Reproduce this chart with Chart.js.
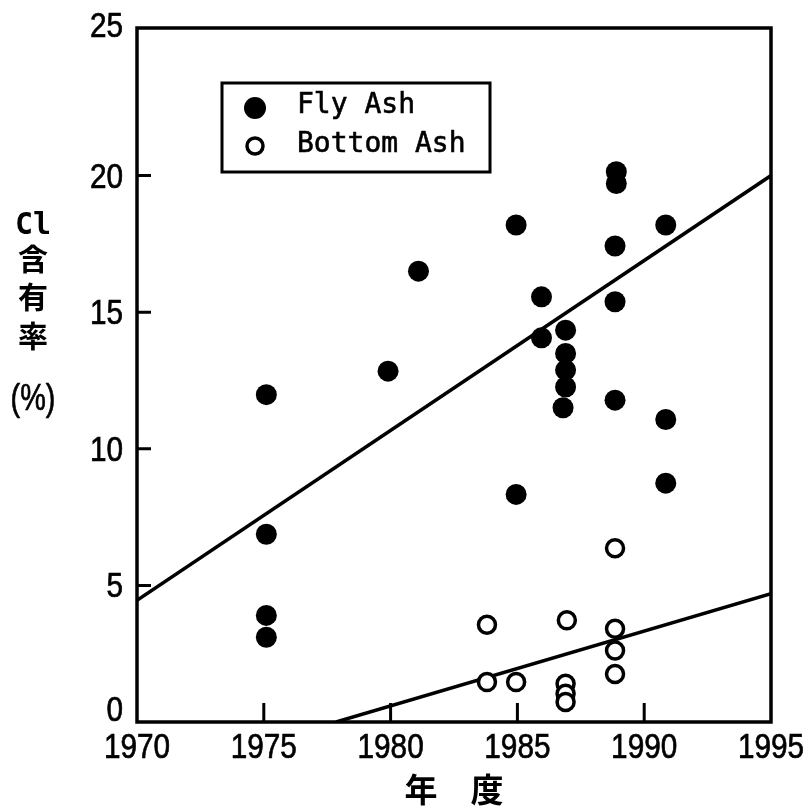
<!DOCTYPE html>
<html>
<head>
<meta charset="utf-8">
<script src="https://cdn.jsdelivr.net/npm/chart.js@4.4.1/dist/chart.umd.min.js"></script>
<style>
  html, body { margin: 0; padding: 0; background: #fff; }
  canvas { display: block; }
</style>
</head>
<body>
<canvas id="clChart" width="803" height="808"></canvas>
<script>
// Fly Ash (filled)
const flyYears = [1975.1, 1975.1, 1975.1, 1975.1, 1979.9, 1981.1, 1984.95, 1984.95, 1985.95, 1985.95,
                  1986.9, 1986.9, 1986.9, 1986.9, 1986.8, 1988.9, 1988.9, 1988.85, 1988.85, 1988.85,
                  1990.85, 1990.85, 1990.85];
const flyCl = [11.98, 6.87, 3.9, 3.1, 12.84, 16.5, 18.19, 8.33, 15.56, 14.06,
               14.34, 13.49, 12.88, 12.26, 11.5, 20.14, 19.71, 17.42, 15.38, 11.78,
               18.19, 11.07, 8.74];

// Bottom Ash (open)
const bottomYears = [1983.8, 1983.8, 1984.95, 1986.95, 1986.9, 1986.9, 1986.9, 1988.85, 1988.85, 1988.85, 1988.85];
const bottomCl = [3.56, 1.46, 1.46, 3.72, 1.40, 1.03, 0.73, 6.36, 3.41, 2.62, 1.76];

// regression lines
const flyTrendYears = [1970, 1995];
const flyTrendCl = [4.45, 20.0];
const bottomTrendYears = [1977.85, 1995];
const bottomTrendCl = [0, 4.7];

const xTicks = [1970, 1975, 1980, 1985, 1990, 1995];
const yTicks = [0, 5, 10, 15, 20, 25];
const yTickLabels = ['0', '5', '10', '15', '20', '25'];

const seriesNames = ['Fly Ash', 'Bottom Ash'];

function toPoints(xs, ys) {
  return xs.map((x, i) => ({ x: x, y: ys[i] }));
}

// narrow text: squeeze horizontally, a touch heavier
function narrowText(ctx, text, x, y, align, squeeze) {
  ctx.save();
  ctx.translate(x, y);
  ctx.scale(squeeze, 1);
  ctx.textAlign = align;
  ctx.lineWidth = 0.7;
  ctx.fillText(text, 0, 0);
  ctx.strokeText(text, 0, 0);
  ctx.restore();
}

/** frame, inward ticks, tick labels, axis titles and legend */
const decorPlugin = {
  id: 'decor',
  afterDraw(chart) {
    const ctx = chart.ctx;
    const a = chart.chartArea;
    const xs = chart.scales.x, ys = chart.scales.y;
    ctx.save();
    ctx.strokeStyle = '#000';
    ctx.fillStyle = '#000';
    ctx.lineWidth = 3.5;
    ctx.strokeRect(a.left, a.top, a.right - a.left, a.bottom - a.top);

    // inward ticks
    ctx.lineWidth = 3;
    ctx.beginPath();
    xTicks.slice(1, -1).forEach(v => {
      const px = xs.getPixelForValue(v);
      ctx.moveTo(px, a.bottom);
      ctx.lineTo(px, a.bottom - 19);
    });
    yTicks.slice(1, -1).forEach(v => {
      const py = ys.getPixelForValue(v);
      ctx.moveTo(a.left, py);
      ctx.lineTo(a.left + 14, py);
    });
    ctx.stroke();

    // tick labels
    ctx.font = '35px "Liberation Sans"';
    ctx.textBaseline = 'alphabetic';
    xTicks.forEach(v => {
      narrowText(ctx, String(v), xs.getPixelForValue(v), a.bottom + 36, 'center', 0.85);
    });
    yTicks.forEach((v, i) => {
      let py = ys.getPixelForValue(v) + 12;
      if (i === 0) py = a.bottom - 1;
      if (i === yTicks.length - 1) py = a.top + 9;
      narrowText(ctx, yTickLabels[i], a.left - 14, py, 'right', 0.85);
    });

    // y title (stacked)
    ctx.textAlign = 'center';
    ctx.textBaseline = 'middle';
    ctx.font = 'bold 30px "DejaVu Sans Mono"';
    ctx.fillText('Cl', 33, 226);
    ctx.font = 'bold 30px "Noto Sans CJK JP"';
    ctx.fillText('含', 33, 259);
    ctx.fillText('有', 33, 297);
    ctx.fillText('率', 33, 336);
    ctx.font = '36px "Liberation Sans"';
    ctx.textBaseline = 'alphabetic';
    narrowText(ctx, '(%)', 33, 410, 'center', 0.8);

    // x title
    ctx.textAlign = 'center';
    ctx.textBaseline = 'middle';
    ctx.font = 'bold 33px "Noto Sans CJK JP"';
    ctx.fillText('年　度', (a.left + a.right) / 2, 789);

    // legend
    const lx = a.left + 85, ly = a.top + 55;
    ctx.lineWidth = 3;
    ctx.strokeRect(lx, ly, 268, 89);
    ctx.beginPath();
    ctx.arc(lx + 33, ly + 25, 11, 0, Math.PI * 2);
    ctx.fill();
    ctx.beginPath();
    ctx.lineWidth = 3.5;
    ctx.arc(lx + 33, ly + 63, 8, 0, Math.PI * 2);
    ctx.stroke();
    ctx.textAlign = 'left';
    ctx.textBaseline = 'alphabetic';
    ctx.font = '28px "DejaVu Sans Mono"';
    ctx.lineWidth = 0.6;
    ctx.fillText(seriesNames[0], lx + 75, ly + 30);
    ctx.strokeText(seriesNames[0], lx + 75, ly + 30);
    ctx.fillText(seriesNames[1], lx + 75, ly + 69);
    ctx.strokeText(seriesNames[1], lx + 75, ly + 69);
    ctx.restore();
  }
};

document.addEventListener("DOMContentLoaded", function () {
  const ctx = document.getElementById('clChart').getContext('2d');
  new Chart(ctx, {
    type: 'scatter',
    data: {
      datasets: [
        {
          label: seriesNames[0],
          data: toPoints(flyYears, flyCl),
          backgroundColor: '#000',
          borderWidth: 0,
          pointRadius: 10.5,
          pointHoverRadius: 10.5
        },
        {
          label: seriesNames[1],
          data: toPoints(bottomYears, bottomCl),
          backgroundColor: '#fff',
          borderColor: '#000',
          borderWidth: 3.5,
          pointRadius: 8.5,
          pointHoverRadius: 8.5
        },
        {
          label: 'fly trend',
          data: toPoints(flyTrendYears, flyTrendCl),
          showLine: true,
          borderColor: '#000',
          borderWidth: 3.5,
          pointRadius: 0
        },
        {
          label: 'bottom trend',
          data: toPoints(bottomTrendYears, bottomTrendCl),
          showLine: true,
          borderColor: '#000',
          borderWidth: 3.5,
          pointRadius: 0
        }
      ]
    },
    options: {
      responsive: false,
      animation: false,
      devicePixelRatio: 1,
      layout: { padding: { top: 28, right: 32, left: 0, bottom: 0 } },
      plugins: {
        legend: { display: false },
        tooltip: { enabled: false }
      },
      scales: {
        x: {
          type: 'linear',
          min: 1970,
          max: 1995,
          afterBuildTicks: s => { s.ticks = xTicks.map(v => ({ value: v })); },
          afterFit: s => { s.height = 86; s.paddingLeft = 0; s.paddingRight = 0; },
          grid: { display: false, drawTicks: false },
          border: { display: false },
          ticks: { display: false }
        },
        y: {
          min: 0,
          max: 25.4,
          afterBuildTicks: s => { s.ticks = yTicks.map(v => ({ value: v })); },
          afterFit: s => { s.width = 137; s.paddingTop = 0; s.paddingBottom = 0; },
          grid: { display: false, drawTicks: false },
          border: { display: false },
          ticks: { display: false }
        }
      }
    },
    plugins: [decorPlugin]
  });
});
</script>
</body>
</html>
